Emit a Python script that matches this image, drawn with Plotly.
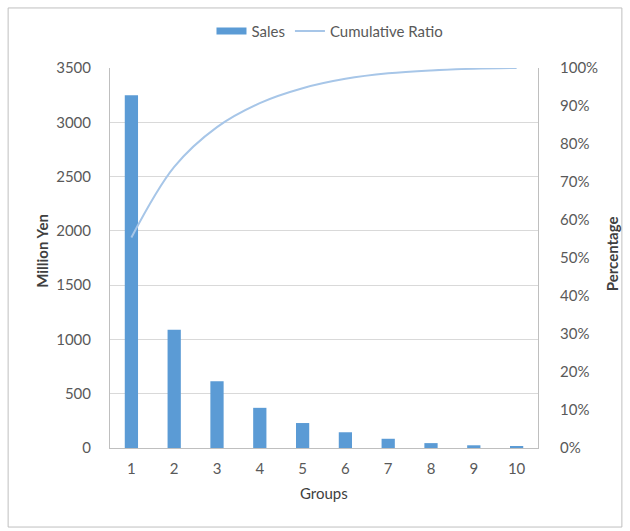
import numpy as np
import plotly.graph_objects as go

groups = [1, 2, 3, 4, 5, 6, 7, 8, 9, 10]
sales = [3250, 1090, 615, 370, 230, 145, 85, 45, 25, 12]
left_ticks = [0, 500, 1000, 1500, 2000, 2500, 3000, 3500]
right_ticks = [0, 0.1, 0.2, 0.3, 0.4, 0.5, 0.6, 0.7, 0.8, 0.9, 1.0]

cum_ratio = np.cumsum(sales) / np.sum(sales)

FONT = "Lato, 'Open Sans', sans-serif"
TXT = "#595959"
TITLE = "#404040"
GRID = "#D9D9D9"
AXIS = "#BFBFBF"
BAR = "#5B9BD5"

fig = go.Figure()
fig.add_trace(go.Bar(
    x=groups, y=sales, name="Sales", marker=dict(color=BAR, line_width=0),
    width=0.31, yaxis="y", showlegend=False, legendgroup="sales",
))
# wide rectangular legend key for the bars
fig.add_trace(go.Scatter(
    x=[None], y=[None], name="Sales", mode="lines", legendgroup="sales",
    line=dict(color=BAR, width=7), yaxis="y",
))
fig.add_trace(go.Scatter(
    x=groups, y=cum_ratio, name="Cumulative Ratio", mode="lines",
    line=dict(color="#A7C6E8", width=2, shape="spline", smoothing=1.0),
    yaxis="y2",
))

fig.update_layout(
    width=630, height=531,
    margin=dict(l=110, r=92, t=68, b=83),
    paper_bgcolor="white", plot_bgcolor="white",
    font=dict(family=FONT, size=15, color=TXT),
    showlegend=True,
    legend=dict(orientation="h", x=0.514, y=1.097, xanchor="center", yanchor="middle",
                font=dict(size=15, color=TXT), itemwidth=30, traceorder="normal",
                tracegroupgap=0),
    xaxis=dict(
        tickmode="array", tickvals=groups, ticktext=[str(g) for g in groups],
        range=[0.5, 10.5], showgrid=False, showline=True, linecolor=AXIS, linewidth=1,
        ticks="", ticklabelstandoff=7, tickfont=dict(size=15, color=TXT),
    ),
    yaxis=dict(
        range=[0, 3500], tickvals=left_ticks, showgrid=True, gridcolor=GRID, gridwidth=1,
        showline=True, linecolor=AXIS, linewidth=1, ticks="", zeroline=False,
        ticklabelstandoff=15, tickfont=dict(size=15, color=TXT),
    ),
    yaxis2=dict(
        range=[0, 1.0], tickvals=right_ticks, tickformat=".0%", overlaying="y", side="right",
        showgrid=False, showline=True, linecolor=AXIS, linewidth=1, ticks="", zeroline=False,
        ticklabelstandoff=18, tickfont=dict(size=15, color=TXT),
    ),
    bargap=0.69,
)

# axis titles
fig.add_annotation(text="<b>Million Yen</b>", xref="paper", yref="paper", x=-0.158, y=0.52,
                   textangle=-90, showarrow=False, font=dict(size=15, color=TITLE),
                   xanchor="center", yanchor="middle")
fig.add_annotation(text="<b>Percentage</b>", xref="paper", yref="paper", x=1.173, y=0.51,
                   textangle=-90, showarrow=False, font=dict(size=15, color=TITLE),
                   xanchor="center", yanchor="middle")
fig.add_annotation(text="Groups", xref="paper", yref="paper", x=0.5, y=-0.118,
                   showarrow=False, font=dict(size=15, color=TITLE),
                   xanchor="center", yanchor="middle")

# chart-area border
fig.add_shape(type="rect", xref="paper", yref="paper", x0=-0.238, x1=1.196, y0=-0.208, y1=1.158,
              line=dict(color="#BFBFBF", width=1), fillcolor="rgba(0,0,0,0)", layer="below")

fig.write_html("out.html")
